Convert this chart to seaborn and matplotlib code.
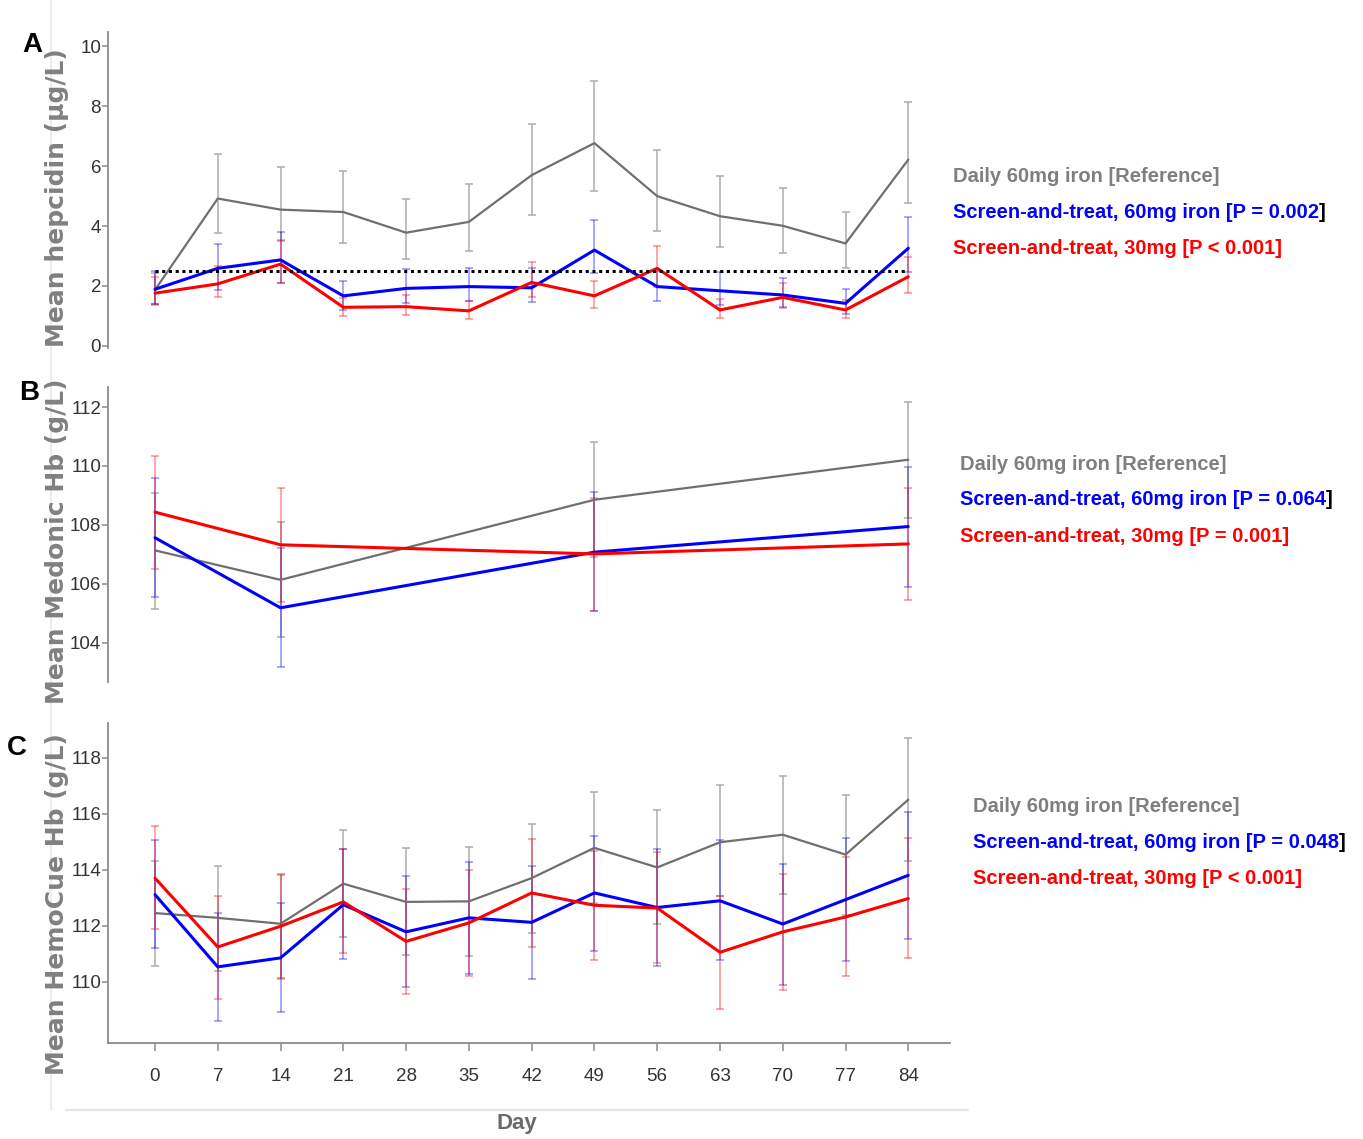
import matplotlib
matplotlib.use("Agg")
import matplotlib.pyplot as plt
from matplotlib.lines import Line2D
import numpy as np
import pandas as pd
import seaborn as sns

# ---- data ----
days = [0, 7, 14, 21, 28, 35, 42, 49, 56, 63, 70, 77, 84]
days_b = [0, 14, 49, 84]
hepcidin_cutoff = 2.5

hep_ref = [1.87, 4.92, 4.55, 4.47, 3.78, 4.14, 5.70, 6.77, 5.00, 4.33, 4.01, 3.42, 6.22]
hep_ref_lo = [1.40, 3.76, 3.50, 3.44, 2.89, 3.18, 4.37, 5.18, 3.83, 3.31, 3.09, 2.61, 4.77]
hep_ref_hi = [2.45, 6.42, 5.96, 5.84, 4.90, 5.40, 7.41, 8.83, 6.53, 5.67, 5.26, 4.46, 8.13]
hep_st60 = [1.89, 2.59, 2.87, 1.67, 1.92, 1.98, 1.94, 3.20, 1.98, 1.84, 1.70, 1.42, 3.26]
hep_st60_lo = [1.40, 1.85, 2.11, 1.20, 1.44, 1.50, 1.48, 2.42, 1.50, 1.37, 1.30, 1.05, 2.48]
hep_st60_hi = [2.51, 3.40, 3.79, 2.18, 2.56, 2.61, 2.59, 4.20, 2.50, 2.46, 2.26, 1.89, 4.31]
hep_st30 = [1.76, 2.07, 2.73, 1.29, 1.31, 1.17, 2.12, 1.67, 2.59, 1.20, 1.62, 1.20, 2.31]
hep_st30_lo = [1.37, 1.62, 2.09, 1.00, 1.03, 0.89, 1.64, 1.28, 1.98, 0.92, 1.26, 0.92, 1.76]
hep_st30_hi = [2.31, 2.68, 3.53, 1.60, 1.70, 1.50, 2.79, 2.17, 3.33, 1.56, 2.09, 1.53, 2.98]

med_ref = [107.13, 106.13, 108.85, 110.21]
med_ref_lo = [105.14, 104.18, 106.90, 108.24]
med_ref_hi = [109.07, 108.11, 110.81, 112.17]
med_st60 = [107.56, 105.18, 107.07, 107.94]
med_st60_lo = [105.54, 103.16, 105.06, 105.90]
med_st60_hi = [109.60, 107.20, 109.11, 109.96]
med_st30 = [108.43, 107.32, 107.01, 107.35]
med_st30_lo = [106.50, 105.39, 105.06, 105.43]
med_st30_hi = [110.33, 109.25, 108.90, 109.26]

hc_ref = [112.46, 112.29, 112.08, 113.51, 112.86, 112.88, 113.71, 114.79, 114.09, 114.99, 115.26, 114.55, 116.51]
hc_ref_lo = [110.58, 110.38, 110.14, 111.59, 110.95, 110.94, 111.75, 112.82, 112.07, 113.06, 113.14, 112.40, 114.33]
hc_ref_hi = [114.31, 114.15, 113.83, 115.44, 114.79, 114.81, 115.65, 116.77, 116.13, 117.05, 117.37, 116.69, 118.71]
hc_st60 = [113.12, 110.54, 110.86, 112.76, 111.79, 112.29, 112.13, 113.18, 112.66, 112.90, 112.07, 112.94, 113.81]
hc_st60_lo = [111.21, 108.59, 108.91, 110.82, 109.82, 110.29, 110.11, 111.09, 110.56, 110.80, 109.90, 110.74, 111.55]
hc_st60_hi = [115.06, 112.46, 112.82, 114.75, 113.77, 114.27, 114.13, 115.20, 114.75, 115.06, 114.23, 115.16, 116.07]
hc_st30 = [113.71, 111.25, 111.99, 112.86, 111.45, 112.11, 113.18, 112.74, 112.64, 111.06, 111.79, 112.32, 112.98]
hc_st30_lo = [111.89, 109.39, 110.12, 111.04, 109.57, 110.20, 111.24, 110.80, 110.68, 109.04, 109.72, 110.23, 110.86]
hc_st30_hi = [115.56, 113.08, 113.86, 114.75, 113.32, 113.99, 115.12, 114.69, 114.66, 113.08, 113.86, 114.45, 115.14]

legend_ref = "Daily 60mg iron [Reference]"
legend_a = ["Screen-and-treat, 60mg iron [P = 0.002", "Screen-and-treat, 30mg [P < 0.001]"]
legend_b = ["Screen-and-treat, 60mg iron [P = 0.064", "Screen-and-treat, 30mg [P = 0.001]"]
legend_c = ["Screen-and-treat, 60mg iron [P = 0.048", "Screen-and-treat, 30mg [P < 0.001]"]

# ---- style ----
sns.set_theme(style="ticks")
plt.rcParams["font.family"] = ["Liberation Sans", "DejaVu Sans"]

GRAY_LINE, BLUE, RED = "#6f6f6f", "#0000ff", "#ff0000"
LINE_W = {"ref": 1.6, "st60": 2.2, "st30": 2.2}
TICK_FS = 13.5


def draw_panel(ax, x, groups):
    rows = []
    for key, (mean, lo, hi, color, ecolor, ealpha) in groups.items():
        mean = np.array(mean)
        ax.errorbar(x, mean, yerr=[mean - np.array(lo), np.array(hi) - mean], fmt="none",
                    ecolor=ecolor, alpha=ealpha, elinewidth=1.4, capsize=3, capthick=1.4, zorder=1)
        rows += [{"day": d, "value": v, "group": key} for d, v in zip(x, mean)]
    df = pd.DataFrame(rows)
    for key, (mean, lo, hi, color, ecolor, ealpha) in groups.items():
        sns.lineplot(data=df[df.group == key], x="day", y="value", color=color,
                     linewidth=LINE_W[key], ax=ax, legend=False, zorder=3)
    ax.set_xlim(-5.24, 88.65)
    ax.set_xlabel("")
    ax.set_ylabel("")
    for s in ["top", "right"]:
        ax.spines[s].set_visible(False)
    for s in ["left", "bottom"]:
        ax.spines[s].set_color("#8a8a8a")
        ax.spines[s].set_linewidth(1.3)
    ax.tick_params(axis="y", direction="out", length=4, width=1.1, color="#8a8a8a",
                   labelsize=TICK_FS, labelcolor="#333333", pad=1)


fig = plt.figure(figsize=(13.63, 11.39), dpi=100)
W, H = 1363, 1139


def axes_px(left, top, right, bottom):
    return fig.add_axes([left / W, 1 - bottom / H, (right - left) / W, (bottom - top) / H])


ax_a = axes_px(108, 32, 950, 348)
ax_b = axes_px(108, 387, 950, 682)
ax_c = axes_px(108, 723, 950, 1043)

draw_panel(ax_a, days, {
    "ref": (hep_ref, hep_ref_lo, hep_ref_hi, GRAY_LINE, "#a8a8a8", 0.75),
    "st60": (hep_st60, hep_st60_lo, hep_st60_hi, BLUE, BLUE, 0.35),
    "st30": (hep_st30, hep_st30_lo, hep_st30_hi, RED, RED, 0.35),
})
ax_a.hlines(hepcidin_cutoff, days[0], days[-1], colors="black", linestyles=(0, (1, 1.2)),
            linewidth=2.2, zorder=4)
ax_a.set_ylim(-0.07, 10.48)
ax_a.set_yticks([0, 2, 4, 6, 8, 10])
ax_a.spines["bottom"].set_visible(False)
ax_a.set_xticks([])

draw_panel(ax_b, days_b, {
    "ref": (med_ref, med_ref_lo, med_ref_hi, GRAY_LINE, "#a8a8a8", 0.75),
    "st60": (med_st60, med_st60_lo, med_st60_hi, BLUE, BLUE, 0.35),
    "st30": (med_st30, med_st30_lo, med_st30_hi, RED, RED, 0.35),
})
ax_b.set_ylim(102.66, 112.68)
ax_b.set_yticks([104, 106, 108, 110, 112])
ax_b.spines["bottom"].set_visible(False)
ax_b.set_xticks([])

draw_panel(ax_c, days, {
    "ref": (hc_ref, hc_ref_lo, hc_ref_hi, GRAY_LINE, "#a8a8a8", 0.75),
    "st60": (hc_st60, hc_st60_lo, hc_st60_hi, BLUE, BLUE, 0.35),
    "st30": (hc_st30, hc_st30_lo, hc_st30_hi, RED, RED, 0.35),
})
ax_c.set_ylim(107.82, 119.25)
ax_c.set_yticks([110, 112, 114, 116, 118])
ax_c.set_xticks(days)
ax_c.tick_params(axis="x", direction="out", length=6, width=1.1, color="#8a8a8a",
                 labelsize=TICK_FS, labelcolor="#333333", pad=12)

# ---- labels ----
ylab = dict(rotation=90, ha="center", va="center", color="#808080", fontsize=18,
            fontweight="bold", family="DejaVu Sans")
fig.text(57 / W, 1 - 198 / H, "Mean hepcidin (µg/L)", **ylab)
fig.text(57 / W, 1 - 541 / H, "Mean Medonic Hb (g/L)", **ylab)
fig.text(57 / W, 1 - 904 / H, "Mean HemoCue Hb (g/L)", **ylab)
fig.text(517 / W, 1 - 1123 / H, "Day", ha="center", va="center", fontsize=16,
         color="#6a6a6a", fontweight="bold")

for letter, (lx, ly) in {"A": (32, 45), "B": (29, 393), "C": (17, 748)}.items():
    fig.text(lx / W, 1 - ly / H, letter, ha="center", va="center", fontsize=20,
             fontweight="bold", color="black")

LEG_FS = 14.5


def legend_block(x, y, texts):
    fig.text(x / W, 1 - y / H, legend_ref, color="#7f7f7f", fontsize=LEG_FS, fontweight="bold",
             va="center", ha="left")
    t = fig.text(x / W, 1 - (y + 36) / H, texts[0], color=BLUE, fontsize=LEG_FS,
                 fontweight="bold", va="center", ha="left")
    fig.text(x / W, 1 - (y + 72) / H, texts[1], color=RED, fontsize=LEG_FS, fontweight="bold",
             va="center", ha="left")
    # closing bracket of the blue entry is black in the source
    fig.add_artist(matplotlib.text.Annotation("]", xy=(1, 0), xycoords=t, va="bottom",
                                              ha="left", color="black", fontsize=LEG_FS,
                                              fontweight="bold", annotation_clip=False))


legend_block(953, 177, legend_a)
legend_block(960, 464, legend_b)
legend_block(973, 806, legend_c)

# faint frame artefacts visible in the source image
fig.add_artist(Line2D([51 / W, 51 / W], [1 - 1110 / H, 1], color="#ececec", linewidth=1.5))
fig.add_artist(Line2D([66 / W, 968 / W], [1 - 1110 / H, 1 - 1110 / H], color="#e6e6e6", linewidth=1.5))

fig.savefig("out.png", dpi=100, facecolor="white")
